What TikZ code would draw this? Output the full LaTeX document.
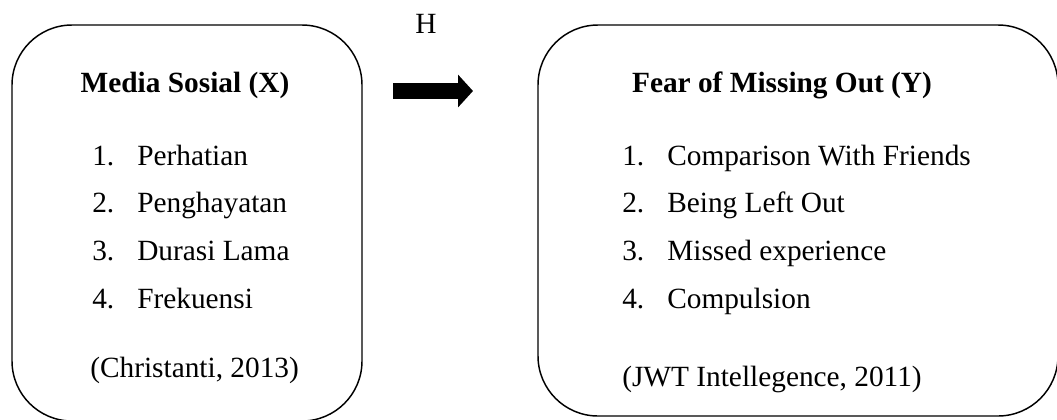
\documentclass[tikz,border=0pt]{standalone}
\usepackage{fontspec}
\setmainfont{Liberation Serif}
\usetikzlibrary{arrows.meta,positioning}
\tikzset{
  varbox/.style={draw=black, line width=1.1pt, rounded corners=45pt, inner sep=0pt},
  vartitle/.style={font=\fontsize{22}{26}\selectfont\bfseries, inner sep=0pt, anchor=base},
  indic/.style={font=\fontsize{22}{26}\selectfont, inner sep=0pt, anchor=base west},
  hyplabel/.style={font=\fontsize{22}{26}\selectfont, inner sep=0pt, anchor=base},
  bigarrow/.style={-{Triangle[length=11.25pt,width=24pt]}, line width=12pt},
}
\begin{document}
\begin{tikzpicture}[x=0.75pt,y=-0.75pt]
  \useasboundingbox (0,0) rectangle (1057,419);
  % the two variable boxes
  \node[varbox, minimum width=262.5pt, minimum height=297pt] (boxX) at (187,223) {};
  \node[varbox, minimum width=390pt, minimum height=293.25pt] (boxY) at (798,220.5) {};
  % titles
  \node[vartitle] (titleX) at (185,92) {Media Sosial (X)};
  \node[vartitle] (titleY) at (782,92) {Fear of Missing Out (Y)};
  % indicators
  \foreach \t [count=\i] in {Perhatian,Penghayatan,Durasi Lama,Frekuensi} {
    \node[indic] (x\i) at (92,{165+(\i-1)*47.7}) {\makebox[33.75pt][l]{\i.}\t};
  }
  \foreach \t [count=\i] in {Comparison With Friends,Being Left Out,Missed experience,Compulsion} {
    \node[indic] (y\i) at (622,{165+(\i-1)*47.7}) {\makebox[33.75pt][l]{\i.}\t};
  }
  % sources
  \node[indic] (srcX) at (90,377) {(Christanti, 2013)};
  \node[indic] (srcY) at (622,386) {(JWT Intellegence, 2011)};
  % hypothesis arrow
  \coordinate (arrS) at (393,91);
  \coordinate (arrE) at (473,91);
  \draw[bigarrow] (arrS) -- (arrE);
  \node[hyplabel] (hyp) at (426,33) {H};
\end{tikzpicture}
\end{document}
